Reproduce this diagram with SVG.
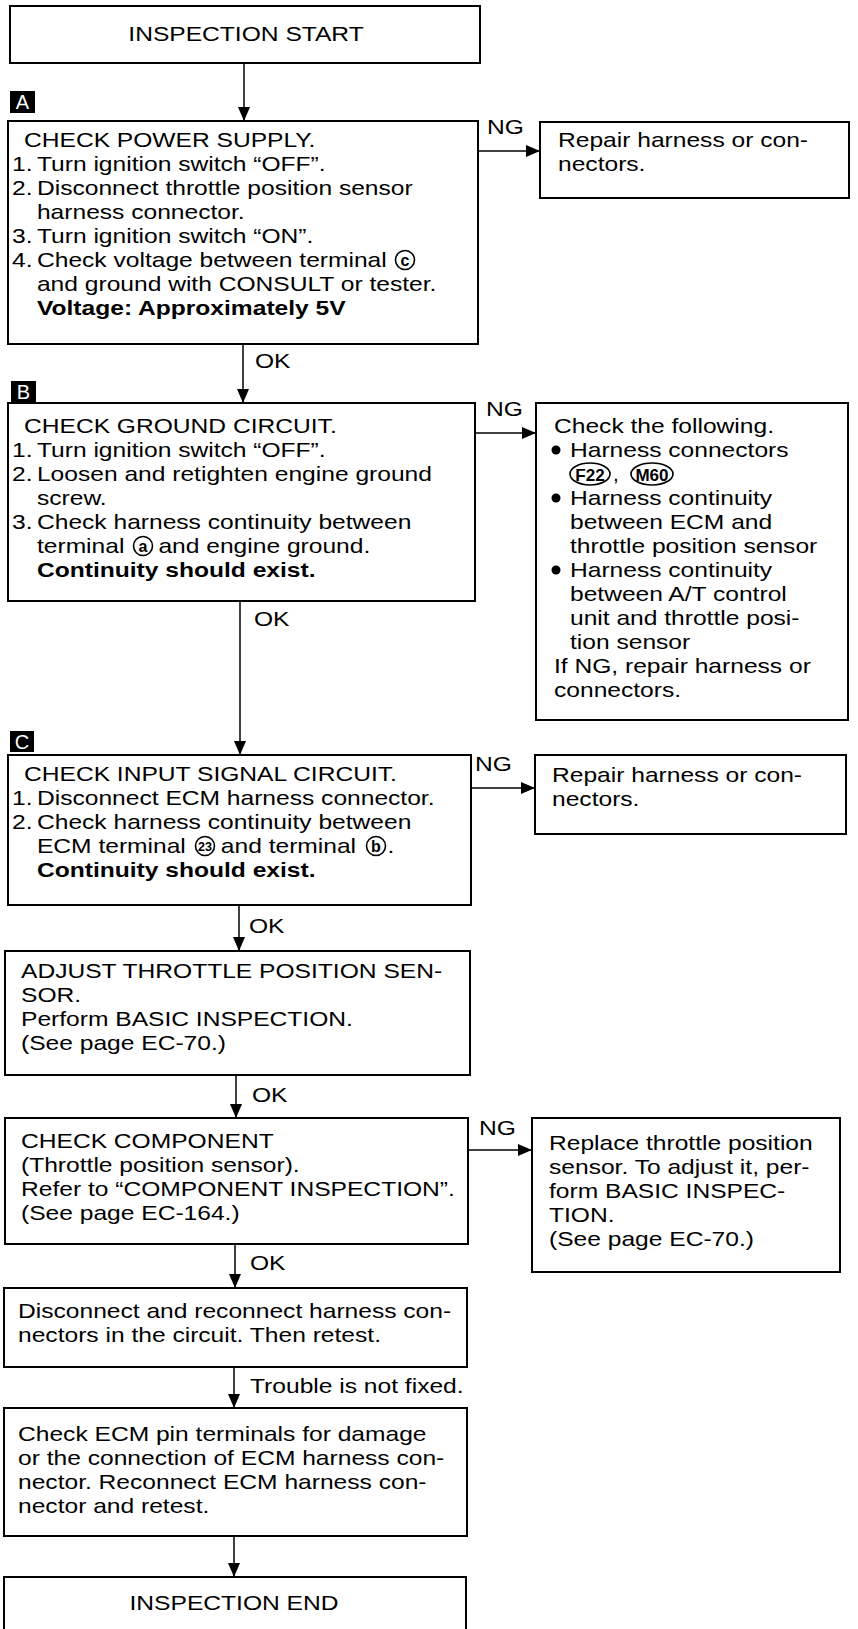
<svg xmlns="http://www.w3.org/2000/svg" width="858" height="1629" viewBox="0 0 858 1629">
<defs>
<style>
.box{fill:#fff;stroke:#000;stroke-width:2}
.t{font-family:"Liberation Sans",Arial,sans-serif;font-size:20.5px;fill:#000}
.b{font-weight:bold}
.c{fill:none;stroke:#000;stroke-width:1.5}
.tag{fill:#000}
.tagt{font-family:"Liberation Sans",Arial,sans-serif;font-size:20px;fill:#fff;text-anchor:middle}
.ring{fill:none;stroke:#000;stroke-width:1.6}
.rt{font-family:"Liberation Sans",Arial,sans-serif;font-weight:bold;fill:#000;text-anchor:middle}
.dot{fill:#000}
</style>
<marker id="ah" viewBox="0 0 14 12" refX="14" refY="6" markerWidth="14" markerHeight="12" markerUnits="userSpaceOnUse" orient="auto">
<path d="M0,0 L14,6 L0,12 z" fill="#000"/>
</marker>
</defs>
<rect width="858" height="1629" fill="#fff"/>

<g id="connectors">
<line class="c" x1="244" y1="63" x2="244" y2="121" marker-end="url(#ah)"/>
<line class="c" x1="478" y1="151" x2="540" y2="151" marker-end="url(#ah)"/>
<line class="c" x1="243" y1="344" x2="243" y2="403" marker-end="url(#ah)"/>
<line class="c" x1="475" y1="433" x2="536" y2="433" marker-end="url(#ah)"/>
<line class="c" x1="240" y1="601" x2="240" y2="755" marker-end="url(#ah)"/>
<line class="c" x1="471" y1="788" x2="535" y2="788" marker-end="url(#ah)"/>
<line class="c" x1="239" y1="905" x2="239" y2="951" marker-end="url(#ah)"/>
<line class="c" x1="236" y1="1075" x2="236" y2="1118" marker-end="url(#ah)"/>
<line class="c" x1="468" y1="1150" x2="532" y2="1150" marker-end="url(#ah)"/>
<line class="c" x1="235" y1="1244" x2="235" y2="1288" marker-end="url(#ah)"/>
<line class="c" x1="234" y1="1367" x2="234" y2="1408" marker-end="url(#ah)"/>
<line class="c" x1="234" y1="1536" x2="234" y2="1577" marker-end="url(#ah)"/>
<text class="t" transform="matrix(1.2 0 0 1 487 134)">NG</text>
<text class="t" transform="matrix(1.2 0 0 1 255 368)">OK</text>
<text class="t" transform="matrix(1.2 0 0 1 486 416)">NG</text>
<text class="t" transform="matrix(1.2 0 0 1 254 626)">OK</text>
<text class="t" transform="matrix(1.2 0 0 1 475 771)">NG</text>
<text class="t" transform="matrix(1.2 0 0 1 249 933)">OK</text>
<text class="t" transform="matrix(1.2 0 0 1 252 1102)">OK</text>
<text class="t" transform="matrix(1.2 0 0 1 479 1135)">NG</text>
<text class="t" transform="matrix(1.2 0 0 1 250 1270)">OK</text>
<text class="t" transform="matrix(1.2 0 0 1 250 1393)">Trouble is not fixed.</text>
</g>

<g id="start">
<rect class="box" x="10" y="6" width="470" height="57"/>
<text class="t" text-anchor="middle" transform="matrix(1.2 0 0 1 246 41)">INSPECTION START</text>
</g>

<g id="tag-a">
<rect class="tag" x="10" y="91" width="25" height="22"/>
<text class="tagt" x="22.5" y="109">A</text>
</g>

<g id="check-power">
<rect class="box" x="8" y="121" width="470" height="223"/>
<g transform="matrix(1.2 0 0 1 12 0)">
<text class="t" x="10" y="147">CHECK POWER SUPPLY.</text>
<text class="t" x="0" y="171">1.</text><text class="t" x="20.8" y="171">Turn ignition switch “OFF”.</text>
<text class="t" x="0" y="195">2.</text><text class="t" x="20.8" y="195">Disconnect throttle position sensor</text>
<text class="t" x="20.8" y="219">harness connector.</text>
<text class="t" x="0" y="243">3.</text><text class="t" x="20.8" y="243">Turn ignition switch “ON”.</text>
<text class="t" x="0" y="267">4.</text><text class="t" x="20.8" y="267">Check voltage between terminal</text>
<text class="t" x="20.8" y="291">and ground with CONSULT or tester.</text>
<text class="t b" x="20.8" y="315">Voltage: Approximately 5V</text>
</g>
<circle class="ring" cx="405" cy="260" r="9.5"/>
<text class="rt" x="405" y="265.5" font-size="16">c</text>
</g>

<g id="repair-1">
<rect class="box" x="540" y="122" width="309" height="76"/>
<g transform="matrix(1.2 0 0 1 558 0)">
<text class="t" x="0" y="147">Repair harness or con-</text>
<text class="t" x="0" y="171">nectors.</text>
</g>
</g>

<g id="tag-b">
<rect class="tag" x="11" y="381" width="25" height="22"/>
<text class="tagt" x="23.5" y="399">B</text>
</g>

<g id="check-ground">
<rect class="box" x="8" y="403" width="467" height="198"/>
<g transform="matrix(1.2 0 0 1 12 0)">
<text class="t" x="10" y="433">CHECK GROUND CIRCUIT.</text>
<text class="t" x="0" y="457">1.</text><text class="t" x="20.8" y="457">Turn ignition switch “OFF”.</text>
<text class="t" x="0" y="481">2.</text><text class="t" x="20.8" y="481">Loosen and retighten engine ground</text>
<text class="t" x="20.8" y="505">screw.</text>
<text class="t" x="0" y="529">3.</text><text class="t" x="20.8" y="529">Check harness continuity between</text>
<text class="t" x="20.8" y="553">terminal</text>
<text class="t" x="122" y="553">and engine ground.</text>
<text class="t b" x="20.8" y="577">Continuity should exist.</text>
</g>
<circle class="ring" cx="143" cy="546" r="9.5"/>
<text class="rt" x="143" y="551.5" font-size="16">a</text>
</g>

<g id="check-following">
<rect class="box" x="536" y="403" width="312" height="317"/>
<circle class="dot" cx="556" cy="450" r="4.5"/>
<circle class="dot" cx="556" cy="498" r="4.5"/>
<circle class="dot" cx="556" cy="570" r="4.5"/>
<g transform="matrix(1.2 0 0 1 554 0)">
<text class="t" x="0" y="433">Check the following.</text>
<text class="t" x="13.3" y="457">Harness connectors</text>
<text class="t" x="13.3" y="505">Harness continuity</text>
<text class="t" x="13.3" y="529">between ECM and</text>
<text class="t" x="13.3" y="553">throttle position sensor</text>
<text class="t" x="13.3" y="577">Harness continuity</text>
<text class="t" x="13.3" y="601">between A/T control</text>
<text class="t" x="13.3" y="625">unit and throttle posi-</text>
<text class="t" x="13.3" y="649">tion sensor</text>
<text class="t" x="0" y="673">If NG, repair harness or</text>
<text class="t" x="0" y="697">connectors.</text>
</g>
<ellipse class="ring" cx="590" cy="474" rx="20" ry="11"/>
<text class="rt" x="590" y="480.5" font-size="17">F22</text>
<text class="t" x="613" y="481">,</text>
<ellipse class="ring" cx="652" cy="474" rx="21" ry="11"/>
<text class="rt" x="652" y="480.5" font-size="17">M60</text>
</g>

<g id="tag-c">
<rect class="tag" x="10" y="731" width="24" height="21"/>
<text class="tagt" x="22" y="749">C</text>
</g>

<g id="check-input">
<rect class="box" x="8" y="755" width="463" height="150"/>
<g transform="matrix(1.2 0 0 1 12 0)">
<text class="t" x="10" y="781">CHECK INPUT SIGNAL CIRCUIT.</text>
<text class="t" x="0" y="805">1.</text><text class="t" x="20.8" y="805">Disconnect ECM harness connector.</text>
<text class="t" x="0" y="829">2.</text><text class="t" x="20.8" y="829">Check harness continuity between</text>
<text class="t" x="20.8" y="853">ECM terminal</text>
<text class="t" x="174" y="853">and terminal</text>
<text class="t" x="313" y="853">.</text>
<text class="t b" x="20.8" y="877">Continuity should exist.</text>
</g>
<circle class="ring" cx="205" cy="846" r="9.5"/>
<text class="rt" x="205" y="850.5" font-size="12.5">23</text>
<circle class="ring" cx="376" cy="846" r="9.5"/>
<text class="rt" x="376" y="851.5" font-size="16">b</text>
</g>

<g id="repair-2">
<rect class="box" x="535" y="755" width="311" height="79"/>
<g transform="matrix(1.2 0 0 1 552 0)">
<text class="t" x="0" y="782">Repair harness or con-</text>
<text class="t" x="0" y="806">nectors.</text>
</g>
</g>

<g id="adjust">
<rect class="box" x="5" y="951" width="465" height="124"/>
<g transform="matrix(1.2 0 0 1 21 0)">
<text class="t" x="0" y="978">ADJUST THROTTLE POSITION SEN-</text>
<text class="t" x="0" y="1002">SOR.</text>
<text class="t" x="0" y="1026">Perform BASIC INSPECTION.</text>
<text class="t" x="0" y="1050">(See page EC-70.)</text>
</g>
</g>

<g id="check-component">
<rect class="box" x="5" y="1118" width="463" height="126"/>
<g transform="matrix(1.2 0 0 1 21 0)">
<text class="t" x="0" y="1148">CHECK COMPONENT</text>
<text class="t" x="0" y="1172">(Throttle position sensor).</text>
<text class="t" x="0" y="1196">Refer to “COMPONENT INSPECTION”.</text>
<text class="t" x="0" y="1220">(See page EC-164.)</text>
</g>
</g>

<g id="replace">
<rect class="box" x="532" y="1118" width="308" height="154"/>
<g transform="matrix(1.2 0 0 1 549 0)">
<text class="t" x="0" y="1150">Replace throttle position</text>
<text class="t" x="0" y="1174">sensor. To adjust it, per-</text>
<text class="t" x="0" y="1198">form BASIC INSPEC-</text>
<text class="t" x="0" y="1222">TION.</text>
<text class="t" x="0" y="1246">(See page EC-70.)</text>
</g>
</g>

<g id="reconnect">
<rect class="box" x="4" y="1288" width="463" height="79"/>
<g transform="matrix(1.2 0 0 1 18 0)">
<text class="t" x="0" y="1318">Disconnect and reconnect harness con-</text>
<text class="t" x="0" y="1342">nectors in the circuit. Then retest.</text>
</g>
</g>

<g id="check-ecm">
<rect class="box" x="4" y="1408" width="463" height="128"/>
<g transform="matrix(1.2 0 0 1 18 0)">
<text class="t" x="0" y="1441">Check ECM pin terminals for damage</text>
<text class="t" x="0" y="1465">or the connection of ECM harness con-</text>
<text class="t" x="0" y="1489">nector. Reconnect ECM harness con-</text>
<text class="t" x="0" y="1513">nector and retest.</text>
</g>
</g>

<g id="end">
<rect class="box" x="4" y="1577" width="462" height="70"/>
<text class="t" text-anchor="middle" transform="matrix(1.2 0 0 1 234 1610)">INSPECTION END</text>
</g>
</svg>
